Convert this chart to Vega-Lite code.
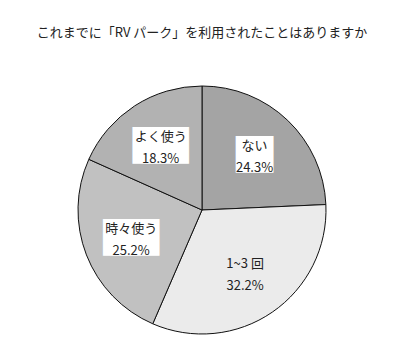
{
  "$schema": "https://vega.github.io/schema/vega-lite/v6.json",
  "width": 248,
  "height": 248,
  "autosize": "none",
  "padding": {"left": 78, "top": 86, "right": 77, "bottom": 30},
  "background": "white",
  "title": {
    "text": "これまでに「RV パーク」を利用されたことはありますか",
    "font": "Noto Sans CJK JP",
    "fontSize": 13,
    "fontWeight": "normal",
    "color": "#222222",
    "anchor": "middle",
    "limit": 400,
    "offset": 44
  },
  "data": {
    "values": [
      {"label": "ない", "share": 0.243, "o": 1},
      {"label": "1~3 回", "share": 0.322, "o": 2},
      {"label": "時々使う", "share": 0.252, "o": 3},
      {"label": "よく使う", "share": 0.183, "o": 4}
    ]
  },
  "encoding": {
    "theta": {"field": "share", "type": "quantitative", "stack": true},
    "order": {"field": "o", "type": "quantitative"}
  },
  "layer": [
    {
      "mark": {"type": "arc", "outerRadius": 124, "stroke": "#111111", "strokeWidth": 1},
      "encoding": {
        "color": {
          "field": "label",
          "type": "nominal",
          "scale": {
            "domain": ["ない", "1~3 回", "時々使う", "よく使う"],
            "range": ["#a4a4a4", "#ebebeb", "#c1c1c1", "#b2b2b2"]
          },
          "legend": null
        }
      }
    },
    {
      "mark": {"type": "text", "radius": 76, "font": "DejaVu Sans Mono", "fontSize": 31, "color": "white", "baseline": "middle", "align": "center", "dy": 1},
      "encoding": {
        "text": {
          "condition": [
            {"test": "datum.label === 'ない'", "value": "██"},
            {"test": "datum.label === '1~3 回'", "value": ""}
          ],
          "value": "███"
        }
      }
    },
    {
      "mark": {"type": "text", "radius": 76, "font": "Noto Sans CJK JP", "fontSize": 13, "color": "#222222", "baseline": "middle", "align": "center", "dy": -9},
      "encoding": {"text": {"field": "label", "type": "nominal"}}
    },
    {
      "mark": {"type": "text", "radius": 76, "font": "Noto Sans CJK JP", "fontSize": 13, "color": "#222222", "baseline": "middle", "align": "center", "dy": 13},
      "encoding": {"text": {"field": "share", "type": "quantitative", "format": ".1%"}}
    }
  ],
  "config": {"view": {"stroke": null}}
}
